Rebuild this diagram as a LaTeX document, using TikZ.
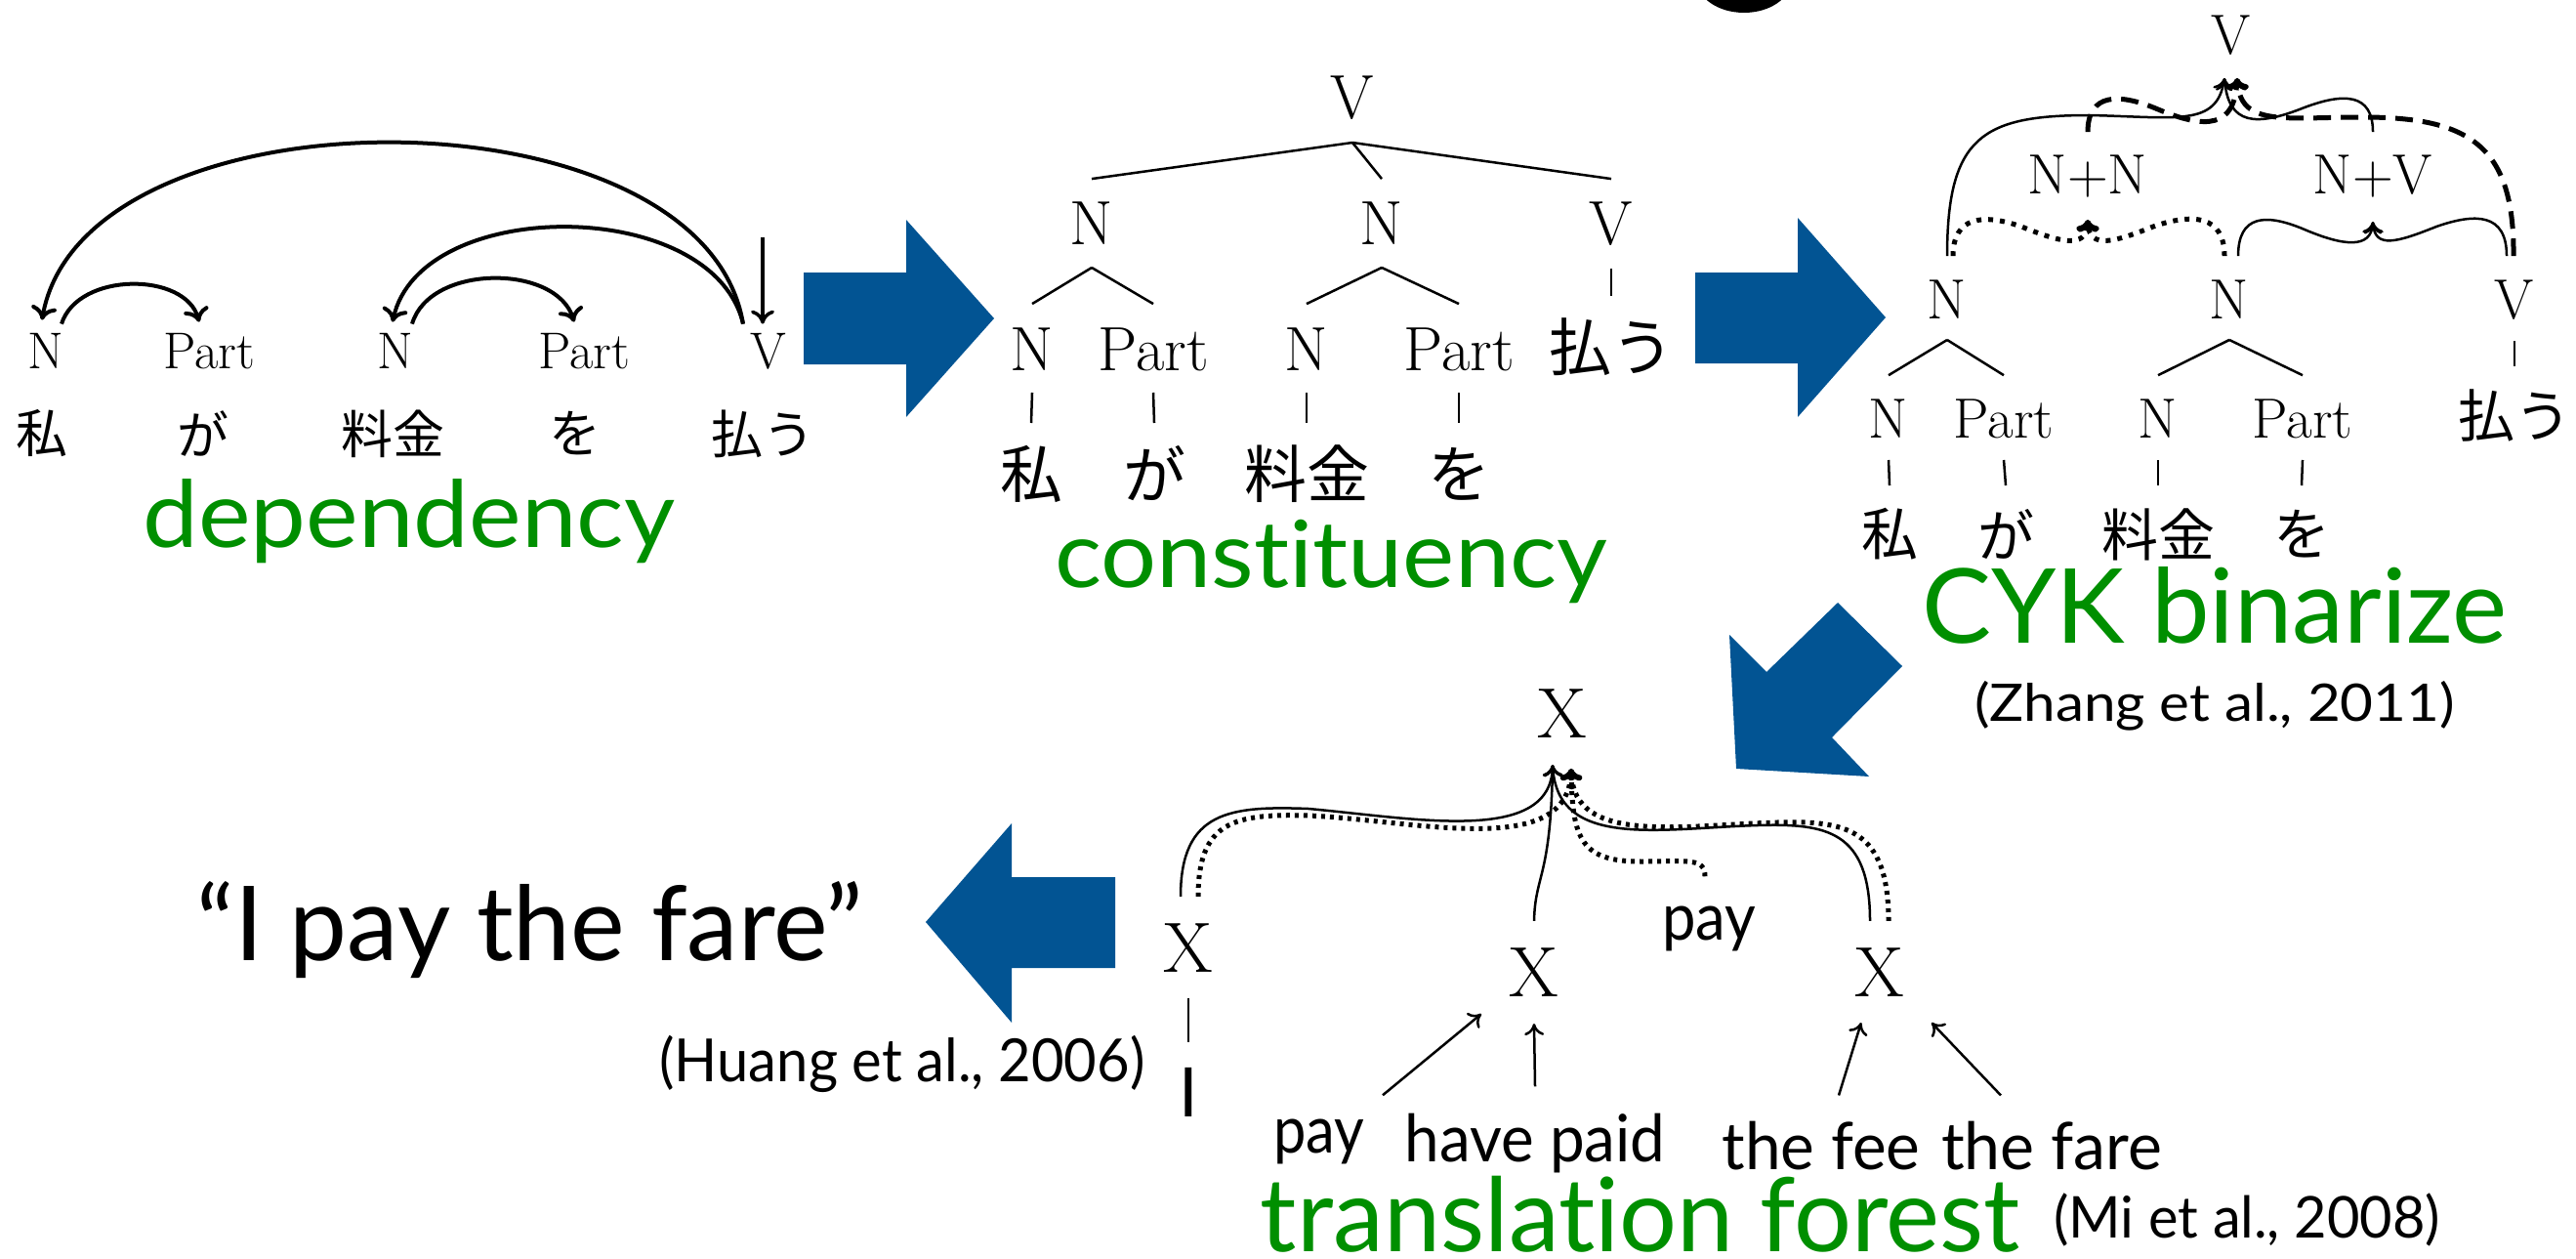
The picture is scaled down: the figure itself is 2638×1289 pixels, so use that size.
\documentclass[tikz,border=0pt]{standalone}
\usepackage{fontspec}
\usepackage{graphicx}
\usetikzlibrary{arrows.meta}
\newfontfamily\gill[Ligatures=NoCommon]{Lato}
\newfontfamily\jp{Noto Sans CJK JP}
\newcommand{\fitw}[2]{\resizebox{#1}{\height}{#2}}
\definecolor{kblue}{RGB}{2,84,147}
\definecolor{kgreen}{RGB}{0,143,0}
\begin{document}
\begin{tikzpicture}[x=1pt,y=-1pt,
  lmA/.style={font=\fontsize{53}{60}\selectfont, inner sep=0pt, anchor=base},
  lmB/.style={font=\fontsize{64}{70}\selectfont, inner sep=0pt, anchor=base},
  lmC/.style={font=\fontsize{58}{64}\selectfont, inner sep=0pt, anchor=base},
  lmD/.style={font=\fontsize{73}{80}\selectfont, inner sep=0pt, anchor=base},
  jpA/.style={font=\jp\fontsize{53}{60}\selectfont, inner sep=0pt, anchor=center},
  jpB/.style={font=\jp\fontsize{64}{70}\selectfont, inner sep=0pt, anchor=center},
  jpC/.style={font=\jp\fontsize{58}{64}\selectfont, inner sep=0pt, anchor=center},
  gs/.style={inner sep=0pt, anchor=base},
  treeline/.style={line width=2.5pt},
  deparc/.style={line width=4pt, -{To[length=14pt,width=26pt]}},
  hyp/.style={line width=2.5pt, -{To[length=12pt,width=20pt]}},
  hypdot/.style={line width=5pt, dash pattern=on 5pt off 7pt, -{To[length=12pt,width=22pt]}},
  hypdash/.style={line width=5pt, dash pattern=on 18pt off 10pt, -{To[length=12pt,width=22pt]}},
  fdot/.style={line width=5pt, dash pattern=on 4pt off 5pt, -{To[length=12pt,width=22pt]}},
  warrow/.style={line width=2.5pt, -{To[length=12pt,width=20pt]}},
]
\fill[white] (0,0) rectangle (2638,1289);
\useasboundingbox (0,0) rectangle (2638,1289);
\begin{scope}
\clip (0,0) rectangle (2638,1289);
\fill[black] (1786,-20) ellipse [x radius=48pt, y radius=33pt];
\end{scope}

% ---------- dependency ----------
\node[lmA] (dN1) at (47,377) {N};
\node[lmA] (dP1) at (214,377) {Part};
\node[lmA] (dN2) at (405,377) {N};
\node[lmA] (dP2) at (598,377) {Part};
\node[lmA] (dV) at (787,377) {V};
\node[jpA] (dJ1) at (43,444) {私};
\node[jpA] (dJ2) at (208,444) {が};
\node[jpA] (dJ3) at (402,444) {料金};
\node[jpA] (dJ4) at (589,444) {を};
\node[jpA] (dJ5) at (781,444) {払う};
\coordinate (dRoot) at (781,243);
\draw[deparc] ([shift={(-26,-9)}]dV.north) .. controls (720,85) and (85,85) .. ([shift={(-4,-13)}]dN1.north);
\draw[deparc] ([shift={(-26,-9)}]dV.north) .. controls (730,200) and (430,200) .. ([shift={(-3,-11)}]dN2.north);
\draw[deparc] ([shift={(16,-9)}]dN1.north) .. controls (80,278) and (190,278) .. ([shift={(-10,-11)}]dP1.north);
\draw[deparc] ([shift={(17,-9)}]dN2.north) .. controls (440,270) and (570,270) .. ([shift={(-10,-11)}]dP2.north);
\draw[line width=3.5pt, -{To[length=14pt,width=24pt]}] (dRoot) -- ([shift={(-6,-9)}]dV.north);
\node[gs, font=\gill\fontsize{95}{100}\selectfont, text=kgreen] (lDep) at (419,560) {\fitw{545pt}{dependency}};

% ---------- blue arrows ----------
\fill[kblue] (823,279) -- (928,279) -- (928,225) -- (1018,326) -- (928,427) -- (928,373) -- (823,373) -- cycle;
\fill[kblue] (1736,279) -- (1841,279) -- (1841,223) -- (1931,325) -- (1841,427) -- (1841,372) -- (1736,372) -- cycle;
\fill[kblue] (1778,787) -- (1771,650) -- (1809,688) -- (1882,617) -- (1948,682) -- (1876,755) -- (1914,795) -- cycle;
\fill[kblue] (948,944) -- (1036,843) -- (1036,898) -- (1142,898) -- (1142,991) -- (1036,991) -- (1036,1047) -- cycle;

% ---------- constituency ----------
\node[lmB] (cV) at (1385,122) {V};
\node[lmB] (cN1) at (1118,251) {N};
\node[lmB] (cN2) at (1415,251) {N};
\node[lmB] (cV2) at (1650,251) {V};
\node[lmB] (cLN1) at (1057,379) {N};
\node[lmB] (cLP1) at (1181,379) {Part};
\node[lmB] (cLN2) at (1338,379) {N};
\node[lmB] (cLP2) at (1494,379) {Part};
\node[jpB] (cJ5) at (1650,355) {払う};
\node[jpB] (cJ1) at (1056,485) {私};
\node[jpB] (cJ2) at (1182,485) {が};
\node[jpB] (cJ3) at (1338,485) {料金};
\node[jpB] (cJ4) at (1494,485) {を};
\draw[treeline] ([yshift=-24pt]cV.base) -- ([yshift=24pt]cN1.north);
\draw[treeline] ([yshift=-24pt]cV.base) -- ([yshift=24pt]cN2.north);
\draw[treeline] ([yshift=-24pt]cV.base) -- ([yshift=24pt]cV2.north);
\draw[treeline] ([yshift=-23pt]cN1.base) -- ([yshift=24pt]cLN1.north);
\draw[treeline] ([yshift=-23pt]cN1.base) -- ([yshift=24pt]cLP1.north);
\draw[treeline] ([yshift=-23pt]cN2.base) -- ([yshift=24pt]cLN2.north);
\draw[treeline] ([yshift=-23pt]cN2.base) -- ([yshift=24pt]cLP2.north);
\draw[treeline] ([yshift=-24pt]cV2.base) -- ([yshift=52pt]cJ5.center);
\draw[treeline] ([yshift=-23pt]cLN1.base) -- ([yshift=52pt]cJ1.center);
\draw[treeline] ([yshift=-23pt]cLP1.base) -- ([yshift=52pt]cJ2.center);
\draw[treeline] ([yshift=-23pt]cLN2.base) -- ([yshift=52pt]cJ3.center);
\draw[treeline] ([yshift=-23pt]cLP2.base) -- ([yshift=52pt]cJ4.center);
\node[gs, font=\gill\fontsize{95}{100}\selectfont, text=kgreen] (lCon) at (1363,601) {\fitw{566pt}{constituency}};

% ---------- CYK binarize ----------
\node[lmC] (yV) at (2285,56) {V};
\node[lmC] (yNN) at (2138,199) {N+N};
\node[lmC] (yNV) at (2430,199) {N+V};
\node[lmC] (yN1) at (1994,326) {N};
\node[lmC] (yN2) at (2283,326) {N};
\node[lmC] (yV2) at (2575,326) {V};
\node[lmC] (yLN1) at (1934,448) {N};
\node[lmC] (yLP1) at (2052,448) {Part};
\node[lmC] (yLN2) at (2210,448) {N};
\node[lmC] (yLP2) at (2358,448) {Part};
\node[jpC] (yJ5) at (2575,425) {払う};
\node[jpC] (yJ1) at (1935,547) {私};
\node[jpC] (yJ2) at (2054,547) {が};
\node[jpC] (yJ3) at (2210,547) {料金};
\node[jpC] (yJ4) at (2357,547) {を};
\draw[treeline] ([yshift=-22pt]yN1.base) -- ([yshift=24pt]yLN1.north);
\draw[treeline] ([yshift=-22pt]yN1.base) -- ([yshift=24pt]yLP1.north);
\draw[treeline] ([yshift=-22pt]yN2.base) -- ([yshift=24pt]yLN2.north);
\draw[treeline] ([yshift=-22pt]yN2.base) -- ([yshift=24pt]yLP2.north);
\draw[treeline] ([yshift=-23pt]yV2.base) -- ([yshift=50pt]yJ5.center);
\draw[treeline] ([yshift=-23pt]yLN1.base) -- ([yshift=50pt]yJ1.center);
\draw[treeline] ([yshift=-23pt]yLP1.base) -- ([yshift=50pt]yJ2.center);
\draw[treeline] ([yshift=-23pt]yLN2.base) -- ([yshift=50pt]yJ3.center);
\draw[treeline] ([yshift=-23pt]yLP2.base) -- ([yshift=50pt]yJ4.center);
% hyperedges into V
\draw[hyp] ([shift={(0,-24)}]yN1.north) .. controls (1994,140) and (2030,118) .. (2140,118) .. controls (2230,120) and (2270,130) .. ([shift={(-7,24)}]yV.base);
\draw[hyp] ([shift={(0,-24)}]yNV.north) .. controls (2430,95) and (2400,95) .. (2360,110) .. controls (2310,130) and (2282,128) .. ([shift={(-7,24)}]yV.base);
\draw[hypdash] ([shift={(0,-24)}]yNN.north) .. controls (2138,95) and (2170,95) .. (2210,112) .. controls (2260,133) and (2288,130) .. ([shift={(6,24)}]yV.base);
\draw[hypdash] ([shift={(-1,-24)}]yV2.north) .. controls (2575,150) and (2530,120) .. (2420,120) .. controls (2340,120) and (2295,130) .. ([shift={(6,24)}]yV.base);
% hyperedges into N+N and N+V
\draw[hypdot] ([shift={(6,-24)}]yN1.north) .. controls (2000,222) and (2030,218) .. (2070,232) .. controls (2110,248) and (2136,255) .. ([shift={(0,26)}]yNN.base);
\draw[hypdot] ([shift={(-5,-24)}]yN2.north) .. controls (2278,220) and (2245,218) .. (2205,232) .. controls (2165,248) and (2140,255) .. ([shift={(0,26)}]yNN.base);
\draw[hyp] ([shift={(9,-24)}]yN2.north) .. controls (2292,220) and (2320,218) .. (2360,235) .. controls (2400,252) and (2428,255) .. ([shift={(0,28)}]yNV.base);
\draw[hyp] ([shift={(-8,-24)}]yV2.north) .. controls (2567,218) and (2535,218) .. (2495,232) .. controls (2455,248) and (2432,255) .. ([shift={(0,28)}]yNV.base);
\node[gs, font=\gill\fontsize{106}{110}\selectfont, text=kgreen] (lCYK) at (2268,658) {\fitw{600pt}{CYK binarize}};
\node[gs, font=\gill\fontsize{53}{58}\selectfont] (lZh) at (2268,738) {\fitw{492pt}{(Zhang et al., 2011)}};

% ---------- translation forest ----------
\node[lmD] (fXT) at (1600,755) {X};
\node[lmD] (fXL) at (1217,995) {X};
\node[lmD] (fXM) at (1571,1020) {X};
\node[lmD] (fXR) at (1925,1020) {X};
\node[gs, font=\gill\fontsize{67}{70}\selectfont] (fPayH) at (1750,962) {\fitw{96pt}{pay}};
\node[gs, font=\gill\fontsize{70}{74}\selectfont] (fI) at (1217,1143) {I};
\node[gs, font=\gill\fontsize{67}{70}\selectfont] (fL1) at (1351,1180) {\fitw{93pt}{pay}};
\node[gs, font=\gill\fontsize{67}{70}\selectfont] (fL2) at (1572,1189) {\fitw{267pt}{have paid}};
\node[gs, font=\gill\fontsize{67}{70}\selectfont] (fL3) at (1865,1197) {\fitw{203pt}{the fee}};
\node[gs, font=\gill\fontsize{67}{70}\selectfont] (fL4) at (2101,1197) {\fitw{226pt}{the fare}};
\draw[treeline] ([yshift=-27pt]fXL.base) -- ([yshift=26pt]fI.north);
\draw[warrow] ([shift={(65,-24)}]fL1.north) -- ([shift={(-54,18)}]fXM.base);
\draw[warrow] ([shift={(0,-27)}]fL2.north) -- ([shift={(0,28)}]fXM.base);
\draw[warrow] ([shift={(18,-26)}]fL3.north) -- ([shift={(-19,27)}]fXR.base);
\draw[warrow] ([shift={(-52,-26)}]fL4.north) -- ([shift={(53,27)}]fXR.base);
\draw[hyp] ([shift={(-8,-27)}]fXL.north) .. controls (1209,830) and (1260,825) .. (1340,828) .. controls (1450,838) and (1588,865) .. ([shift={(-10,28)}]fXT.base);
\draw[fdot] ([shift={(10,-27)}]fXL.north) .. controls (1227,840) and (1265,833) .. (1340,835) .. controls (1450,840) and (1605,880) .. ([shift={(9,32)}]fXT.base);
\draw[hyp] ([shift={(0,-27)}]fXM.north) .. controls (1572,895) and (1588,900) .. ([shift={(-10,28)}]fXT.base);
\draw[hyp] ([shift={(-10,-27)}]fXR.north) .. controls (1915,850) and (1870,843) .. (1800,845) .. controls (1700,848) and (1595,870) .. ([shift={(-10,28)}]fXT.base);
\draw[fdot] ([shift={(9,-27)}]fXR.north) .. controls (1934,848) and (1890,840) .. (1820,842) .. controls (1720,845) and (1612,865) .. ([shift={(9,32)}]fXT.base);
\draw[fdot] ([shift={(-4,-30)}]fPayH.north) .. controls (1746,878) and (1730,882) .. (1680,882) .. controls (1620,882) and (1610,860) .. ([shift={(9,32)}]fXT.base);
\node[gs, font=\gill\fontsize{105}{110}\selectfont, text=kgreen] (lTF) at (1680,1281) {\fitw{778pt}{translation forest}};
\node[gs, font=\gill\fontsize{59}{64}\selectfont] (lMi) at (2301,1267) {\fitw{396pt}{(Mi et al., 2008)}};

% ---------- output ----------
\node[gs, font=\gill\fontsize{106}{110}\selectfont] (lOut) at (543,983) {\fitw{682pt}{“I pay the fare”}};
\node[gs, font=\gill\fontsize{61}{66}\selectfont] (lHu) at (924,1107) {\fitw{497pt}{(Huang et al., 2006)}};
\end{tikzpicture}
\end{document}
